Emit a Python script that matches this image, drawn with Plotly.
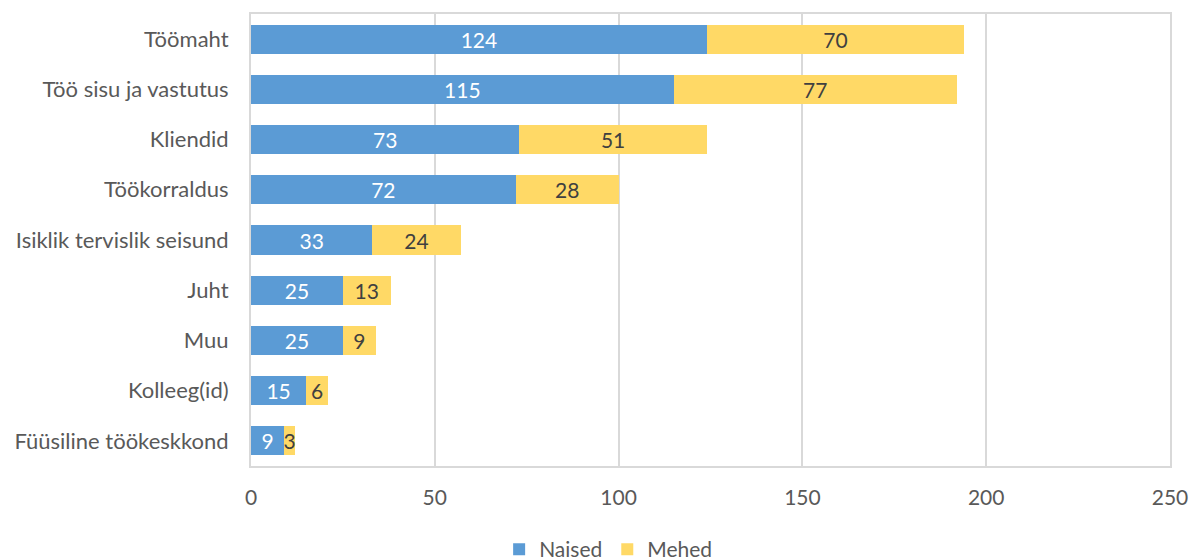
import plotly.graph_objects as go

categories = ["Töömaht", "Töö sisu ja vastutus", "Kliendid", "Töökorraldus",
              "Isiklik tervislik seisund", "Juht", "Muu", "Kolleeg(id)",
              "Füüsiline töökeskkond"]
naised = [124, 115, 73, 72, 33, 25, 25, 15, 9]
mehed = [70, 77, 51, 28, 24, 13, 9, 6, 3]
x_ticks = [0, 50, 100, 150, 200, 250]

FONT = "Lato, 'Open Sans', sans-serif"
FS = 21

fig = go.Figure()
fig.add_trace(go.Bar(
    y=categories, x=naised, name="Naised", orientation="h",
    marker=dict(color="#5B9BD5", line=dict(width=0)),
    text=naised, textposition="inside", insidetextanchor="middle",
    textfont=dict(color="white", size=FS, family=FONT),
))
fig.add_trace(go.Bar(
    y=categories, x=mehed, name="Mehed", orientation="h",
    marker=dict(color="#FFD966", line=dict(width=0)),
    text=mehed, textposition="inside", insidetextanchor="middle",
    textfont=dict(color="#404040", size=FS, family=FONT),
))

fig.update_layout(
    barmode="stack",
    bargap=0.42,
    width=1192, height=560,
    margin=dict(l=251, r=22, t=14, b=94, autoexpand=False),
    paper_bgcolor="white", plot_bgcolor="white",
    font=dict(family=FONT, size=FS, color="#595959"),
    legend=dict(orientation="h", x=0.27, xanchor="left", y=-0.185, yanchor="middle",
                font=dict(size=FS, color="#595959"), traceorder="normal",
                itemwidth=30),
    xaxis=dict(range=[0, 250], tickvals=x_ticks, showgrid=True, gridcolor="#d9d9d9",
               gridwidth=1.5, zeroline=False, showline=True, linecolor="#d9d9d9",
               linewidth=2, mirror=True, ticks="", ticklabelstandoff=12,
               tickfont=dict(size=FS, color="#595959")),
    yaxis=dict(autorange="reversed", showgrid=False, showline=True, linecolor="#d9d9d9",
               linewidth=2, mirror=True, ticks="", ticklabelstandoff=16,
               tickfont=dict(size=22, color="#595959")),
)
fig.update_traces(textangle=0, constraintext="none", cliponaxis=False)

fig.write_html("out.html")
